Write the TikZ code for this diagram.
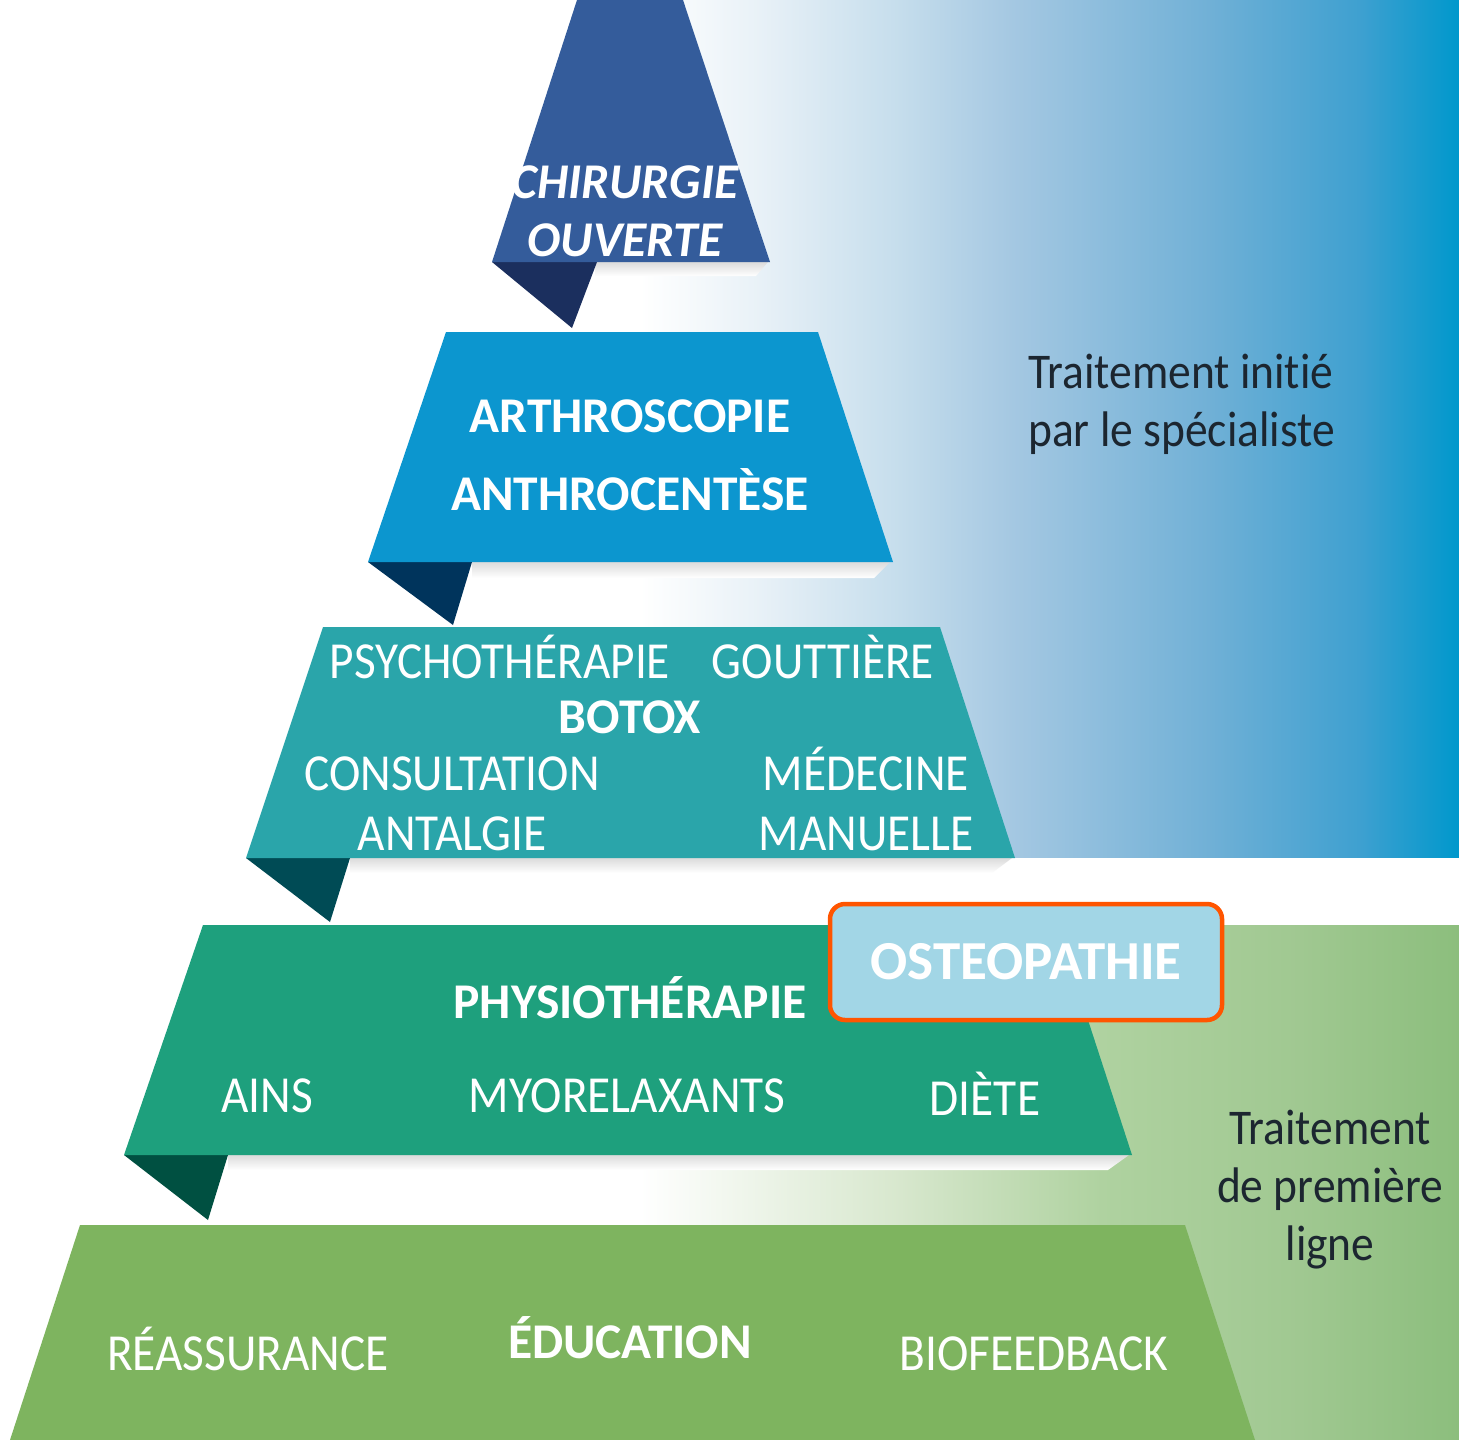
\documentclass[tikz,border=0pt]{standalone}
\usepackage{fontspec}
\setmainfont[Ligatures=NoCommon]{Carlito}
\newfontfamily\labreg[FakeStretch=0.91,Ligatures=NoCommon]{Carlito}
\newfontfamily\labbold[FakeStretch=0.99,Ligatures=NoCommon]{Carlito}
\newfontfamily\sidefont[FakeStretch=0.91,Ligatures=NoCommon]{Carlito}

% band colours
\definecolor{bandA}{RGB}{52,92,155}
\definecolor{foldA}{RGB}{27,47,94}
\definecolor{bandB}{RGB}{12,150,207}
\definecolor{foldB}{RGB}{0,52,92}
\definecolor{bandC}{RGB}{42,165,170}
\definecolor{foldC}{RGB}{0,75,85}
\definecolor{bandD}{RGB}{30,160,125}
\definecolor{foldD}{RGB}{0,80,65}
\definecolor{bandE}{RGB}{126,180,95}
% background fades
\definecolor{skyA}{RGB}{232,241,247}
\definecolor{skyB}{RGB}{197,221,236}
\definecolor{skyC}{RGB}{165,200,226}
\definecolor{skyD}{RGB}{112,176,214}
\definecolor{skyE}{RGB}{62,160,208}
\definecolor{skyF}{RGB}{0,152,204}
\definecolor{meadowA}{RGB}{215,231,205}
\definecolor{meadowB}{RGB}{175,210,160}
\definecolor{meadowC}{RGB}{160,200,145}
\definecolor{meadowD}{RGB}{140,190,125}
% highlight box and side text
\definecolor{boxfill}{RGB}{162,214,230}
\definecolor{boxline}{RGB}{255,85,0}
\definecolor{sideink}{RGB}{28,38,48}

\tikzset{
  lab/.style={text=white, inner sep=0pt, anchor=base,
    font=\labreg\fontsize{52}{58}\selectfont},
  labb/.style={lab, font=\labbold\bfseries\fontsize{50}{58}\selectfont},
  side/.style={text=sideink, inner sep=0pt,
    font=\sidefont\fontsize{50}{58}\selectfont},
  shadowstrip/.style={top color=black!14, bottom color=white, draw=none},
}

\begin{document}
\begin{tikzpicture}[x=1pt, y=-1pt]
\useasboundingbox (0,0) rectangle (1459,1440);
\fill[white] (0,0) rectangle (1459,1440);

% upper fade (specialist treatment)
\shade[left color=white, right color=white] (600,0) rectangle (641,857);
\shade[left color=white, right color=skyA] (640,0) rectangle (761,857);
\shade[left color=skyA, right color=skyB] (760,0) rectangle (901,857);
\shade[left color=skyB, right color=skyC] (900,0) rectangle (1011,857);
\shade[left color=skyC, right color=skyD] (1010,0) rectangle (1211,857);
\shade[left color=skyD, right color=skyE] (1210,0) rectangle (1361,857);
\shade[left color=skyE, right color=skyF] (1360,0) rectangle (1459,857);

% lower fade (first-line treatment)
\shade[left color=white, right color=meadowA] (640,925) rectangle (901,1440);
\shade[left color=meadowA, right color=meadowB] (900,925) rectangle (1101,1440);
\shade[left color=meadowB, right color=meadowC] (1100,925) rectangle (1301,1440);
\shade[left color=meadowC, right color=meadowD] (1300,925) rectangle (1459,1440);

% soft shadows under the bands
\shade[shadowstrip] (595,262) -- (768,262) -- (756,276) -- (595,276) -- cycle;
\shade[shadowstrip] (472,562) -- (890,562) -- (874,578) -- (472,578) -- cycle;
\shade[shadowstrip] (350,858) -- (1012,858) -- (992,873) -- (350,873) -- cycle;
\shade[shadowstrip] (228,1155) -- (1129,1155) -- (1108,1170) -- (228,1170) -- cycle;

% folded tails
\fill[foldA] (492,262) -- (597,262) -- (572,328) -- cycle;
\fill[foldB] (368,562) -- (472,562) -- (453,625) -- cycle;
\fill[foldC] (246,858) -- (350,858) -- (330,922) -- cycle;
\fill[foldD] (124,1155) -- (228,1155) -- (208,1220) -- cycle;

% pyramid bands
\fill[bandA] (577,0) -- (683,0) -- (770,262) -- (492,262) -- cycle;
\fill[bandB] (446,332) -- (818,332) -- (893,562) -- (368,562) -- cycle;
\fill[bandC] (323,627) -- (940,627) -- (1015,858) -- (246,858) -- cycle;
\fill[bandD] (203,925) -- (1057,925) -- (1132,1155) -- (124,1155) -- cycle;
\fill[bandE] (80,1225) -- (1185,1225) -- (1255,1440) -- (10,1440) -- cycle;

% level 1
\node[labb, font=\labbold\bfseries\itshape\fontsize{50}{58}\selectfont] (chir) at (625,198) {CHIRURGIE};
\node[labb, font=\labbold\bfseries\itshape\fontsize{50}{58}\selectfont] (ouv) at (625,256) {OUVERTE};

% level 2
\node[labb] (arthro) at (630,432) {ARTHROSCOPIE};
\node[labb] (anthro) at (630,510) {ANTHROCENTÈSE};

% level 3
\node[lab] (psycho) at (500,678) {PSYCHOTHÉRAPIE};
\node[lab] (goutt) at (823,678) {GOUTTIÈRE};
\node[labb] (botox) at (630,733) {BOTOX};
\node[lab] (consult) at (452,790) {CONSULTATION};
\node[lab] (medecine) at (866,790) {MÉDECINE};
\node[lab] (antalg) at (452,850) {ANTALGIE};
\node[lab] (manuel) at (866,850) {MANUELLE};

% level 4
\node[labb] (physio) at (630,1018) {PHYSIOTHÉRAPIE};
\node[lab] (ains) at (267,1112) {AINS};
\node[lab] (myo) at (627,1112) {MYORELAXANTS};
\node[lab] (diete) at (985,1115) {DIÈTE};

% level 5
\node[lab] (reass) at (248,1370) {RÉASSURANCE};
\node[labb] (educ) at (630,1358) {ÉDUCATION};
\node[lab] (biofb) at (1034,1370) {BIOFEEDBACK};

% highlighted box
\node[draw=boxline, line width=4.5pt, rounded corners=15pt, fill=boxfill,
      minimum width=392pt, minimum height=116pt, inner sep=0pt,
      text=white, font=\bfseries\fontsize{55}{60}\selectfont]
      (osteo) at (1026,962) {OSTEOPATHIE};

% side captions
\node[side, anchor=base west] (specA) at (1028,388) {Traitement initié};
\node[side, anchor=base west] (specB) at (1028,446) {par le spécialiste};
\node[side, anchor=base] (firstA) at (1330,1144) {Traitement};
\node[side, anchor=base] (firstB) at (1330,1202) {de première};
\node[side, anchor=base] (firstC) at (1330,1260) {ligne};
\end{tikzpicture}
\end{document}
